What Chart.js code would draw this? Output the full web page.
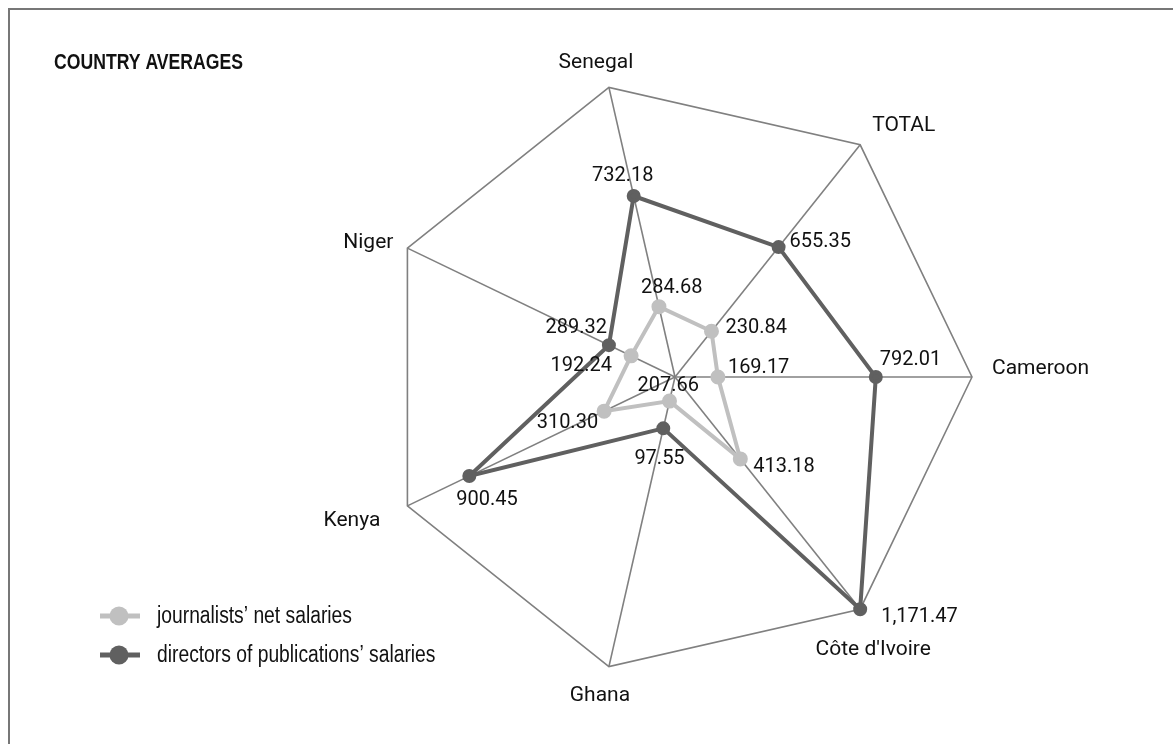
<!DOCTYPE html>
<html><head><meta charset="utf-8">
<script src="https://cdn.jsdelivr.net/npm/chart.js@4"></script>
<style>html,body{margin:0;padding:0;background:#fff}#wrap{position:relative;width:1173px;height:744px}</style>
</head><body><div id="wrap"><canvas id="c" width="1173" height="744"></canvas></div>
<script>
const categories = ['Cameroon', "Côte d'Ivoire", 'Ghana', 'Kenya', 'Niger', 'Senegal', 'TOTAL'];
const journalists = [169.17, 413.18, 97.55, 310.30, 192.24, 284.68, 230.84];
const directors = [792.01, 1171.47, 207.66, 900.45, 289.32, 732.18, 655.35];
const seriesNames = ['journalists’ net salaries', 'directors of publications’ salaries'];
const chartTitle = 'COUNTRY AVERAGES';
const scaleMax = 1171.47;

// label placement (not data): [dx, dy, align] relative to the point
const valueLabelPos = [
  [[10,-9,'left'],[13,8,'left'],[-10,58,'center'],[-6,12,'right'],[-19,10,'right'],[-18,-19,'left'],[14,-3,'left']],
  [[4,-17,'left'],[21,8,'left'],[5,-42,'center'],[-13,24,'left'],[-2,-17,'right'],[-11,-20,'center'],[11,-5,'left']]
];
const catLabelPos = [[20,-8,'left'],[13,41,'center'],[-9,29,'center'],[-27,15,'right'],[-14,-5,'right'],[-13,-25,'center'],[12,-19,'left']];

const LIGHT = '#c0c0c0', DARK = '#606060', GRID = '#808080', TEXT = '#111';
const fmt = v => v.toLocaleString('en-US', {minimumFractionDigits: 2, maximumFractionDigits: 2});

// narrow text: Arial-metric font compressed horizontally (like Arial Narrow)
function narrowText(ctx, text, x, y, font) {
  ctx.save();
  ctx.font = font;
  ctx.textAlign = 'left';
  ctx.textBaseline = 'middle';
  ctx.translate(x, y);
  ctx.scale(0.82, 1);
  ctx.fillText(text, 0, 0);
  ctx.restore();
}

const decor = {
  id: 'decor',
  beforeDraw(chart) {
    const ctx = chart.ctx;
    ctx.save();
    ctx.strokeStyle = '#777';
    ctx.lineWidth = 2;
    ctx.beginPath();
    ctx.moveTo(9, 744); ctx.lineTo(9, 9); ctx.lineTo(1173, 9);
    ctx.stroke();
    ctx.restore();
  },
  afterDatasetsDraw(chart) {
    const ctx = chart.ctx;
    const scale = chart.scales.r;
    ctx.save();
    ctx.fillStyle = TEXT;
    ctx.textBaseline = 'middle';
    // category labels
    ctx.font = '21px Roboto';
    categories.forEach((c, i) => {
      const p = scale.getPointPosition(i, scale.drawingArea);
      const o = catLabelPos[i];
      ctx.textAlign = o[2];
      ctx.fillText(c, p.x + o[0], p.y + o[1]);
    });
    // value labels
    ctx.font = '20px Roboto';
    chart.data.datasets.forEach((ds, di) => {
      const meta = chart.getDatasetMeta(di);
      meta.data.forEach((el, i) => {
        const o = valueLabelPos[di][i];
        ctx.textAlign = o[2];
        ctx.fillText(fmt(ds.data[i]), el.x + o[0], el.y + o[1]);
      });
    });
    // title
    narrowText(ctx, chartTitle, 54, 63, 'bold 21.5px "Liberation Sans", Arial, sans-serif');
    // legend
    const ly = [616, 655];
    chart.data.datasets.forEach((ds, di) => {
      const y = ly[di];
      ctx.strokeStyle = ds.borderColor;
      ctx.lineWidth = 5;
      ctx.beginPath(); ctx.moveTo(100, y); ctx.lineTo(140, y); ctx.stroke();
      ctx.fillStyle = ds.pointBackgroundColor;
      ctx.beginPath(); ctx.arc(119, y, 9.5, 0, Math.PI * 2); ctx.fill();
      ctx.fillStyle = TEXT;
      narrowText(ctx, ds.label, 157, y + 1, '23.5px "Liberation Sans", Arial, sans-serif');
    });
    ctx.restore();
  }
};

new Chart(document.getElementById('c'), {
  type: 'radar',
  data: {
    labels: categories,
    datasets: [
      {label: seriesNames[0], data: journalists, borderColor: LIGHT, backgroundColor: 'transparent',
       pointBackgroundColor: LIGHT, pointBorderColor: LIGHT, pointRadius: 5.5, borderWidth: 4, fill: false, order: 2},
      {label: seriesNames[1], data: directors, borderColor: DARK, backgroundColor: 'transparent',
       pointBackgroundColor: DARK, pointBorderColor: DARK, pointRadius: 5, borderWidth: 4, fill: false, order: 1}
    ]
  },
  options: {
    responsive: false,
    animation: false,
    devicePixelRatio: 1,
    layout: {padding: {left: 378, right: 201, top: 80, bottom: 70}},
    plugins: {legend: {display: false}, tooltip: {enabled: false}},
    elements: {line: {tension: 0}},
    scales: {
      r: {
        min: 0, max: scaleMax,
        startAngle: 90,
        ticks: {display: false, count: 2},
        grid: {color: GRID, lineWidth: 1.6},
        angleLines: {color: GRID, lineWidth: 1.6},
        pointLabels: {display: false}
      }
    }
  },
  plugins: [decor]
});
</script></body></html>
